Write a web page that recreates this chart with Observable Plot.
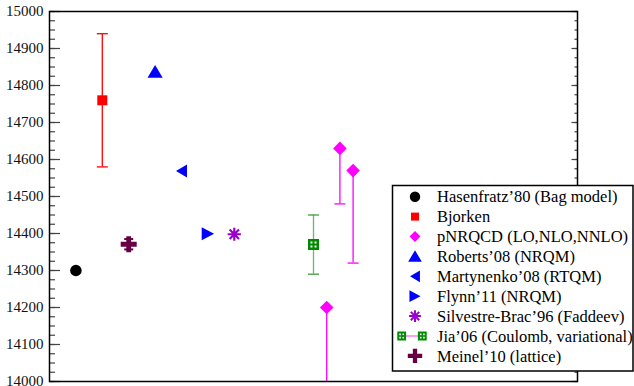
<!DOCTYPE html>
<html>
<head>
<meta charset="utf-8">
<script src="https://cdn.jsdelivr.net/npm/d3@7"></script>
<script src="https://cdn.jsdelivr.net/npm/@observablehq/plot@0.6"></script>
<style>
  html, body { margin: 0; padding: 0; background: #fff; }
  #chart svg { display: block; }
</style>
</head>
<body>
<div id="chart"></div>
<script>
// Omega_bbb mass predictions (MeV) from several approaches
const seriesNames = [
  "Hasenfratz’80 (Bag model)",
  "Bjorken",
  "pNRQCD (LO,NLO,NNLO)",
  "Roberts’08 (NRQM)",
  "Martynenko’08 (RTQM)",
  "Flynn’11 (NRQM)",
  "Silvestre-Brac’96 (Faddeev)",
  "Jia’06 (Coulomb, variational)",
  "Meinel’10 (lattice)"
];
const seriesColors = ["#000000", "#ff0000", "#ff00ff", "#0000ff", "#0000ff", "#0000ff", "#9900cc", "#008a00", "#660044"];
const errorColors  = ["#000000", "#ff0000", "#ff00ff", "#0000ff", "#0000ff", "#0000ff", "#9900cc", "#3d9e3d", "#660044"];

// one entry per plotted point: which series, horizontal slot, mass and error range
const pointSeries = [0, 1, 8, 3, 4, 5, 6, 7, 2, 2, 2];
const pointSlot   = [1, 2, 3, 4, 5, 6, 7, 10, 10.5, 11, 11.5];
const pointMass   = [14300, 14760, 14371, 14837, 14569, 14399, 14398, 14370, 14200, 14630, 14570];
const errLow      = [null, 14580, 14357, null, null, null, null, 14290, 13900, 14480, 14320];
const errHigh     = [null, 14940, 14385, null, null, null, null, 14450, 14200, 14630, 14570];

const majorTicks = d3.range(14000, 15001, 100);
const minorTicks = d3.range(14000, 15001, 25);

const points = pointSlot.map((x, i) => ({
  x, y: pointMass[i], s: pointSeries[i], lo: errLow[i], hi: errHigh[i]
}));
const withErr = points.filter(d => d.lo != null);
const caps = withErr.flatMap(d => [d.lo, d.hi].filter(v => v !== d.y).map(v => ({x: d.x, y: v, s: d.s})));

// fixed-size marker shapes
const poly = pts => ({draw(c) { c.moveTo(...pts[0]); pts.slice(1).forEach(p => c.lineTo(...p)); c.closePath(); }});
const shapes = [
  {draw(c) { c.moveTo(5.8, 0); c.arc(0, 0, 5.8, 0, 2 * Math.PI); }},
  {draw(c) { c.rect(-5, -5, 10, 10); }},
  poly([[0, -6.8], [6.8, 0], [0, 6.8], [-6.8, 0]]),
  poly([[0, -6.8], [7.6, 6], [-7.6, 6]]),
  poly([[-5.5, 0], [5.5, -6.5], [5.5, 6.5]]),
  poly([[6.2, 0], [-6.2, -6.5], [-6.2, 6.5]]),
  {draw(c) {
    for (let k = 0; k < 4; k++) {
      const a = k * Math.PI / 4, dx = 6.6 * Math.cos(a), dy = 6.6 * Math.sin(a);
      c.moveTo(-dx, -dy); c.lineTo(dx, dy);
    }
  }},
  {draw(c) {
    // outer square clockwise, four windows counter-clockwise
    c.moveTo(-5.5, -5.5); c.lineTo(5.5, -5.5); c.lineTo(5.5, 5.5); c.lineTo(-5.5, 5.5); c.closePath();
    for (const [cx, cy] of [[-2, -2], [2, -2], [2, 2], [-2, 2]]) {
      c.moveTo(cx - 1, cy - 1); c.lineTo(cx - 1, cy + 1); c.lineTo(cx + 1, cy + 1); c.lineTo(cx + 1, cy - 1); c.closePath();
    }
  }},
  poly([[-2.4, -8], [2.4, -8], [2.4, -2.4], [8, -2.4], [8, 2.4], [2.4, 2.4], [2.4, 8], [-2.4, 8], [-2.4, 2.4], [-8, 2.4], [-8, -2.4], [-2.4, -2.4]])
];
const stroked = [false, false, false, false, false, false, true, false, false];

const capShape = w => ({draw(c) { c.moveTo(-w, 0); c.lineTo(w, 0); }});
const tickShape = (from, to) => ({draw(c) { c.moveTo(from, 0); c.lineTo(to, 0); }});

const marks = [];
// error bars
marks.push(Plot.ruleX(withErr, {
  x: "x", y1: "lo", y2: "hi", stroke: d => errorColors[d.s],
  strokeWidth: 1.3, strokeOpacity: d => d.s === 7 ? 0.75 : 1, clip: true
}));
marks.push(Plot.dot(caps, {
  x: "x", y: "y", fill: "none", stroke: d => errorColors[d.s], strokeWidth: d => d.s === 8 ? 2 : 1.3,
  symbol: d => d.s === 8 ? "meinelCap" : "cap", clip: true
}));
// markers, one layer per series
seriesNames.forEach((name, s) => {
  const data = points.filter(d => d.s === s);
  marks.push(Plot.dot(data, stroked[s]
    ? {x: "x", y: "y", symbol: shapes[s], fill: "none", stroke: seriesColors[s], strokeWidth: 2.2}
    : {x: "x", y: "y", symbol: shapes[s], fill: seriesColors[s], stroke: "none"}));
});
// inward ticks on both vertical edges
marks.push(Plot.dot(majorTicks, {y: d => d, frameAnchor: "left", symbol: tickShape(0, 10.5), stroke: "#444", strokeWidth: 1.2, fill: "none"}));
marks.push(Plot.dot(minorTicks, {y: d => d, frameAnchor: "left", symbol: tickShape(0, 5.5), stroke: "#444", strokeWidth: 1.2, fill: "none"}));
marks.push(Plot.dot(majorTicks, {y: d => d, frameAnchor: "right", symbol: tickShape(-6, 0), stroke: "#444", strokeWidth: 1.2, fill: "none"}));
marks.push(Plot.dot(minorTicks, {y: d => d, frameAnchor: "right", symbol: tickShape(-3, 0), stroke: "#444", strokeWidth: 1.2, fill: "none"}));
marks.push(Plot.axisY({ticks: majorTicks, tickSize: 0, tickPadding: 6, tickFormat: d3.format("d"), label: null}));
marks.push(Plot.frame({stroke: "#000", strokeWidth: 1.5}));

const chart = Plot.plot({
  width: 634,
  height: 386,
  marginLeft: 49,
  marginRight: 57,
  marginTop: 11,
  marginBottom: 5,
  style: {fontFamily: "'Liberation Serif', 'DejaVu Serif', serif", fontSize: "15px", color: "#111", background: "#fff"},
  x: {domain: [0, 20], axis: null},
  y: {domain: [14000, 15000], axis: null},
  symbol: {domain: ["cap", "meinelCap"], range: [capShape(5.5), capShape(4.5)]},
  marks
});
document.getElementById("chart").appendChild(chart);

// legend box overlapping the lower right of the frame
const svg = d3.select(chart);
const legend = svg.append("g")
  .attr("font-family", "'Liberation Serif', 'DejaVu Serif', serif")
  .attr("font-size", "16.5px")
  .attr("text-anchor", "start");
legend.append("rect").attr("x", 392.5).attr("y", 185.5).attr("width", 240.5).attr("height", 185.5)
  .attr("fill", "#fff").attr("stroke", "#000").attr("stroke-width", 1.5);
const path = sh => { const p = d3.path(); sh.draw(p); return p.toString(); };
seriesNames.forEach((name, s) => {
  const row = legend.append("g").attr("transform", `translate(0,${196.7 + s * 19.9})`);
  const style = el => stroked[s]
    ? el.attr("fill", "none").attr("stroke", seriesColors[s]).attr("stroke-width", 2.2)
    : el.attr("fill", seriesColors[s]);
  if (s === 7) {
    row.append("line").attr("x1", 402).attr("x2", 422).attr("y1", 0).attr("y2", 0).attr("stroke", "#ff66ff").attr("stroke-width", 1.3);
    style(row.append("path").attr("transform", "translate(401.7,0) scale(0.8)").attr("d", path(shapes[s])));
    style(row.append("path").attr("transform", "translate(422.3,0) scale(0.8)").attr("d", path(shapes[s])));
  } else {
    const k = s === 2 || s === 1 ? 0.8 : 0.9;
    style(row.append("path").attr("transform", `translate(415,0) scale(${k})`).attr("d", path(shapes[s])));
  }
  row.append("text").attr("x", 437).attr("y", 0).attr("dy", "0.35em").attr("fill", "#000").text(name);
});
</script>
</body>
</html>
